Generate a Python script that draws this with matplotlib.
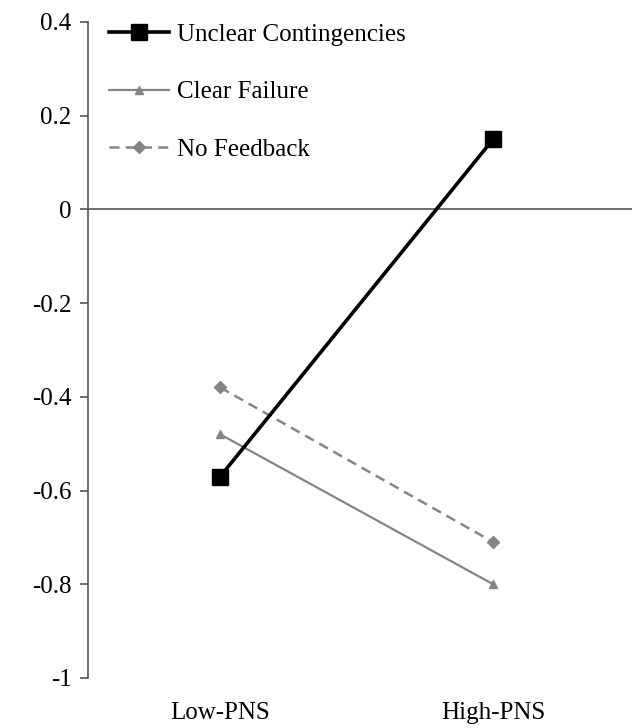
import matplotlib
matplotlib.use("Agg")
import matplotlib.pyplot as plt

categories = ["Low-PNS", "High-PNS"]
unclear = [-0.57, 0.15]
clear_failure = [-0.48, -0.80]
no_feedback = [-0.38, -0.71]
yticks = [-1, -0.8, -0.6, -0.4, -0.2, 0, 0.2, 0.4]
ytick_labels = ["-1", "-0.8", "-0.6", "-0.4", "-0.2", "0", "0.2", "0.4"]

plt.rcParams['font.family'] = ['Liberation Serif', 'DejaVu Serif']
FS = 18

fig = plt.figure(figsize=(6.34, 7.28), dpi=100)
ax = fig.add_axes([0.139, 0.0687, 0.858, 0.9011])

x = list(range(len(categories)))
grey = '#858585'
ax.plot(x, unclear, color='black', lw=2.6, marker='s', ms=11, label='Unclear Contingencies', zorder=4)
ax.plot(x, clear_failure, color=grey, lw=1.6, marker='^', ms=6, label='Clear Failure', zorder=3)
ax.plot(x, no_feedback, color=grey, lw=1.8, ls=(0, (4, 2.5)), marker='D', ms=6, label='No Feedback', zorder=3)

ax.axhline(0, color='#555555', lw=1.2, zorder=1)

ax.set_xlim(-0.484, 1.509)
ax.set_ylim(-1, 0.4)
ax.set_yticks(yticks)
ax.set_yticklabels(ytick_labels, fontsize=FS)
ax.set_xticks(x)
ax.set_xticklabels(categories, fontsize=FS)
ax.tick_params(axis='x', length=0, pad=17)
ax.tick_params(axis='y', length=6, width=1.2, color='#555555', pad=6, direction='out')

for s in ['top', 'right', 'bottom']:
    ax.spines[s].set_visible(False)
ax.spines['left'].set_color('#555555')
ax.spines['left'].set_linewidth(1.2)

leg = ax.legend(loc='upper left', bbox_to_anchor=(0.02, 1.013), frameon=False,
                fontsize=FS, handlelength=2.4, handletextpad=0.3,
                labelspacing=1.4, borderaxespad=0)

fig.savefig('out.png', dpi=100)
